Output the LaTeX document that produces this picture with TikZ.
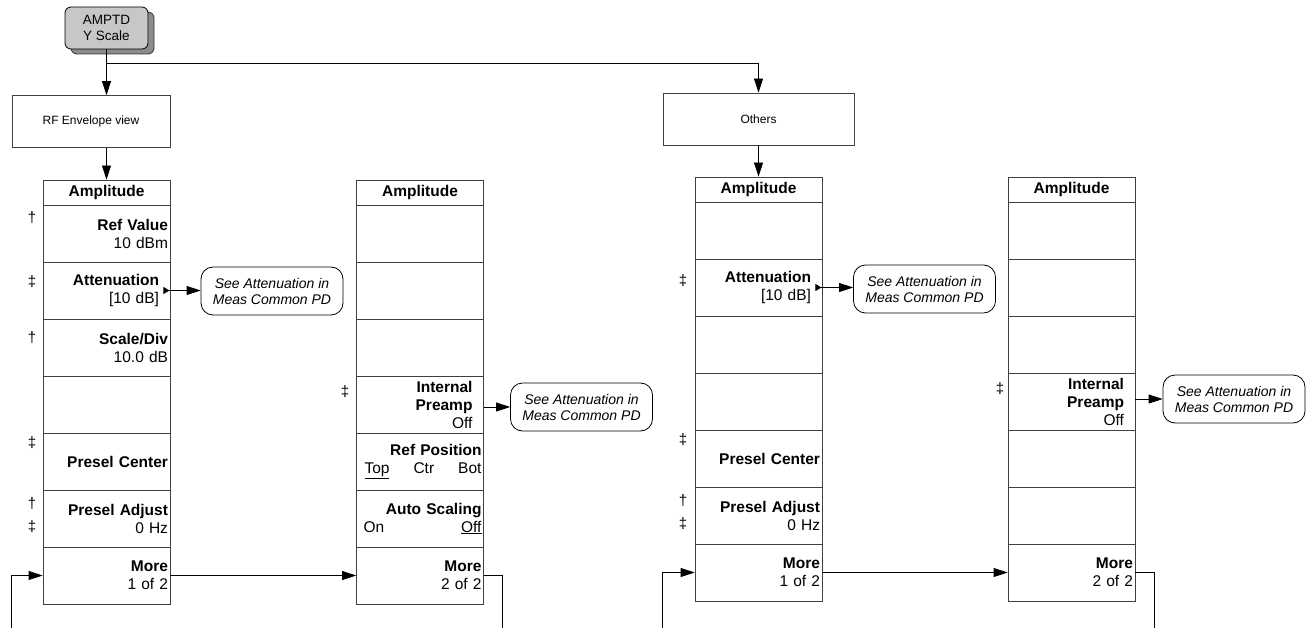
\documentclass[tikz,border=0pt]{standalone}
\usepackage{fontspec}
\setmainfont{Liberation Sans}
\usetikzlibrary{arrows.meta,shadows}
\begin{document}
\begin{tikzpicture}[x=1pt,y=-1pt,
  menurow/.style={draw=black!75, line width=0.8pt, minimum width=127pt, minimum height=57pt,
    inner xsep=2pt, inner ysep=0pt, text width=123pt, align=right,
    font=\fontsize{15.5}{18}\selectfont},
  arrowrow/.style={menurow, inner xsep=11pt, text width=105pt},
  hdr/.style={draw=black!75, line width=0.8pt, minimum width=127pt, minimum height=25pt,
    inner sep=0pt, font=\bfseries\fontsize{15.5}{18}\selectfont},
  callout/.style={draw, line width=0.8pt, rounded corners=12pt, minimum width=142pt,
    minimum height=48pt, inner sep=0pt, align=center, font=\itshape\fontsize{14}{16}\selectfont},
  viewbox/.style={draw=black!75, line width=0.8pt, minimum height=52pt, inner sep=0pt,
    font=\fontsize{12}{14}\selectfont},
  btn/.style={draw, line width=0.8pt, rounded corners=6pt, fill=black!22, minimum width=83pt,
    minimum height=42pt, inner sep=0pt, align=center, font=\fontsize{13.5}{16}\selectfont,
    copy shadow={shadow xshift=6pt, shadow yshift=-5pt, fill=black!45, draw=black!80}},
  dag/.style={inner sep=0pt, font=\fontsize{15}{15}\selectfont},
  arr/.style={line width=0.8pt, -{Triangle[length=14pt,width=9pt]}},
  conn/.style={line width=0.8pt},
  markarr/.style={line width=0.8pt, {Triangle[reversed,length=6pt,width=7pt]}-{Triangle[length=14pt,width=9pt]}}
]
\useasboundingbox (0,0) rectangle (1313,628);

% top button and view boxes
\node[btn] (amptd) at (106.5,28) {AMPTD\\Y Scale};
\node[viewbox, minimum width=158pt] (rf) at (91,121.5) {RF Envelope view};
\node[viewbox, minimum width=191pt] (oth) at (758.5,119) {Others};
\coordinate (jn) at (106.5,63);

% ---------- Menu 1 ----------
\node[hdr] (m1h) at (106.5,192.5) {Amplitude};
\node[menurow] (m1r1) at (106.5,233.5) {\textbf{Ref Value}\\10 dBm};
\node[arrowrow] (m1r2) at (106.5,290.5) {\textbf{Attenuation}\\{[}10 dB{]}};
\node[menurow] (m1r3) at (106.5,347.5) {\textbf{Scale/Div}\\10.0 dB};
\node[menurow] (m1r4) at (106.5,404.5) {};
\node[menurow] (m1r5) at (106.5,461.5) {\textbf{Presel Center}};
\node[menurow] (m1r6) at (106.5,518.5) {\textbf{Presel Adjust}\\0 Hz};
\node[menurow] (m1r7) at (106.5,575.5) {\textbf{More}\\1 of 2};

% ---------- Menu 2 ----------
\node[hdr] (m2h) at (420,192.5) {Amplitude};
\node[menurow] (m2r1) at (420,233.5) {};
\node[menurow] (m2r2) at (420,290.5) {};
\node[menurow] (m2r3) at (420,347.5) {};
\node[arrowrow] (m2r4) at (420,404.5) {\textbf{Internal}\\\textbf{Preamp}\\Off};
\node[menurow] (m2r5) at (420,461.5) {\textbf{Ref Position}\\\makebox[123pt]{\hspace{6pt}\underline{Top}\hfill Ctr\hfill Bot}};
\node[menurow] (m2r6) at (420,518.5) {\textbf{Auto Scaling}\\\makebox[123pt]{\hspace{5pt}On\hfill\underline{Off}}};
\node[menurow] (m2r7) at (420,575.5) {\textbf{More}\\2 of 2};

% ---------- Menu 3 ----------
\node[hdr] (m3h) at (758.5,189.5) {Amplitude};
\node[menurow] (m3r1) at (758.5,230.5) {};
\node[arrowrow] (m3r2) at (758.5,287.5) {\textbf{Attenuation}\\{[}10 dB{]}};
\node[menurow] (m3r3) at (758.5,344.5) {};
\node[menurow] (m3r4) at (758.5,401.5) {};
\node[menurow] (m3r5) at (758.5,458.5) {\textbf{Presel Center}};
\node[menurow] (m3r6) at (758.5,515.5) {\textbf{Presel Adjust}\\0 Hz};
\node[menurow] (m3r7) at (758.5,572.5) {\textbf{More}\\1 of 2};

% ---------- Menu 4 ----------
\node[hdr] (m4h) at (1071.5,189.5) {Amplitude};
\node[menurow] (m4r1) at (1071.5,230.5) {};
\node[menurow] (m4r2) at (1071.5,287.5) {};
\node[menurow] (m4r3) at (1071.5,344.5) {};
\node[arrowrow] (m4r4) at (1071.5,401.5) {\textbf{Internal}\\\textbf{Preamp}\\Off};
\node[menurow] (m4r5) at (1071.5,458.5) {};
\node[menurow] (m4r6) at (1071.5,515.5) {};
\node[menurow] (m4r7) at (1071.5,572.5) {\textbf{More}\\2 of 2};

% ---------- daggers ----------
\node[dag] (d1) at (32,218) {†};
\node[dag] (d2) at (32,282) {‡};
\node[dag] (d3) at (32,338) {†};
\node[dag] (d4) at (32,443) {‡};
\node[dag] (d5) at (32,504) {†};
\node[dag] (d6) at (32,527) {‡};
\node[dag] (d7) at (345,392) {‡};
\node[dag] (d8) at (683,281) {‡};
\node[dag] (d9) at (683,440) {‡};
\node[dag] (d10) at (683,501) {†};
\node[dag] (d11) at (683,524) {‡};
\node[dag] (d12) at (1000,389) {‡};

% ---------- callouts ----------
\node[callout] (c1) at (272,291) {See Attenuation in\\Meas Common PD};
\node[callout] (c2) at (581.5,407) {See Attenuation in\\Meas Common PD};
\node[callout] (c3) at (924.5,289) {See Attenuation in\\Meas Common PD};
\node[callout] (c4) at (1234,399) {See Attenuation in\\Meas Common PD};

% ---------- feedback ends ----------
\coordinate (fb0) at (11,628);
\coordinate (fb1) at (502,628);
\coordinate (fb2) at (662,628);
\coordinate (fb3) at (1154,628);

% ---------- connectors ----------
\draw[arr] (amptd.south) -- (amptd.south |- rf.north);
\draw[arr] (jn) -| (oth.north);
\draw[arr] (m1h.north |- rf.south) -- (m1h.north);
\draw[arr] (oth.south) -- (m3h.north);

\draw[markarr] ([xshift=-7pt]m1r2.east) -- (c1.west |- m1r2.east);
\draw[arr] (m2r4.east |- c2.west) -- (c2.west);
\draw[markarr] ([xshift=-7pt]m3r2.east) -- (c3.west |- m3r2.east);
\draw[arr] (m4r4.east |- c4.west) -- (c4.west);

\draw[arr] (m1r7.east) -- (m2r7.west);
\draw[conn] (m2r7.east) -| (fb1);
\draw[arr] (fb0) |- (m1r7.west);
\draw[arr] (m3r7.east) -- (m4r7.west);
\draw[conn] (m4r7.east) -| (fb3);
\draw[arr] (fb2) |- (m3r7.west);
\end{tikzpicture}
\end{document}
